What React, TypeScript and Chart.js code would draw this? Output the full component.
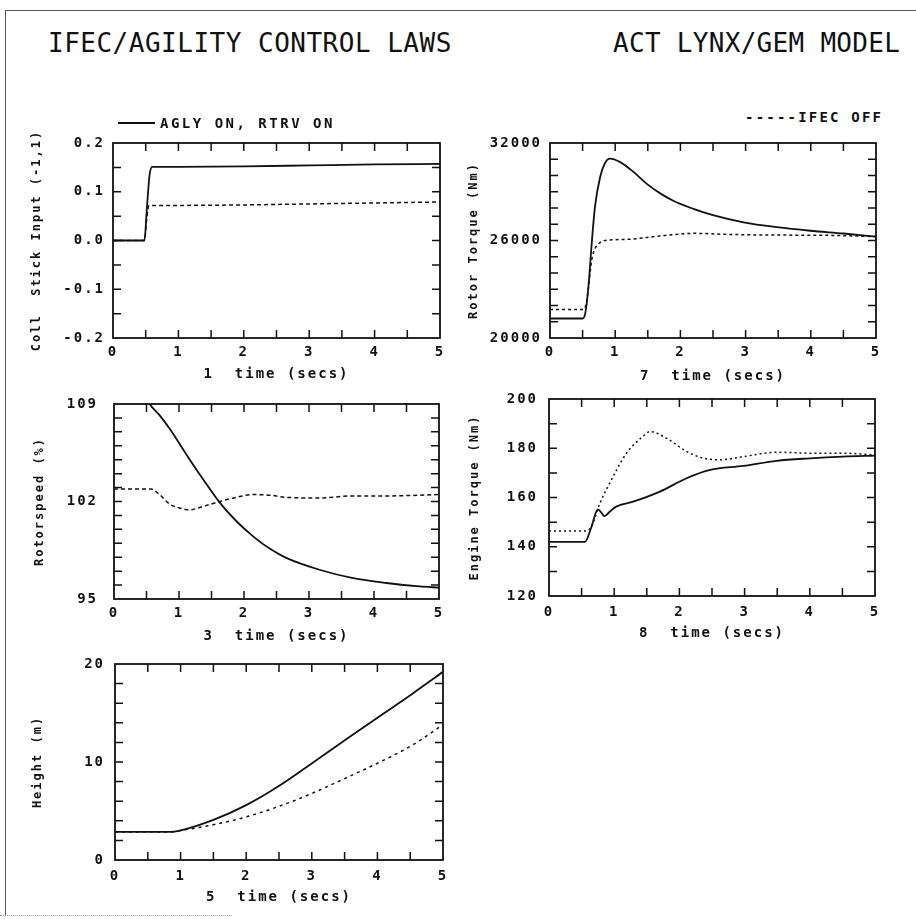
import React, { useEffect, useRef } from "react";
import { Chart, registerables } from "chart.js";

Chart.register(...registerables);

const MONO = '"DejaVu Sans Mono", "Liberation Mono", monospace';
const INK = "#111";

// ---------- shared x axis ----------
const X_TICK_VALUES = [0, 1, 2, 3, 4, 5];
const X_TICK_LABELS = ["0", "1", "2", "3", "4", "5"];

// ---------- 1: collective stick input ----------
const STICK_T_ON = [0, 0.48, 0.52, 0.56, 0.6, 1, 2, 3, 4, 5];
const STICK_ON = [0, 0, 0.07, 0.135, 0.151, 0.151, 0.152, 0.154, 0.156, 0.157];
const STICK_T_OFF = [0, 0.48, 0.52, 0.55, 1, 2, 3, 4, 5];
const STICK_OFF = [0, 0, 0.05, 0.072, 0.072, 0.073, 0.075, 0.077, 0.079];
const STICK_Y_TICKS = [-0.2, -0.1, 0, 0.1, 0.2];
const STICK_Y_LABELS = ["-0.2", "-0.1", "0.0", "0.1", "0.2"];

// ---------- 7: rotor torque ----------
const RTQ_T_ON = [0, 0.5, 0.54, 0.59, 0.64, 0.69, 0.77, 0.84, 0.92, 1.07, 1.28, 1.48, 1.69, 1.89, 2.2, 2.5, 2.97, 3.48, 3.99, 4.5, 5];
const RTQ_ON = [21200, 21200, 21500, 23170, 25830, 28080, 29920, 30740, 31040, 30840, 30220, 29500, 28900, 28450, 27950, 27560, 27120, 26820, 26600, 26430, 26240];
const RTQ_T_OFF = [0, 0.5, 0.56, 0.64, 0.69, 0.76, 0.82, 1.18, 1.69, 2.2, 2.71, 3.22, 3.74, 4.25, 5];
const RTQ_OFF = [21750, 21750, 22200, 24800, 25500, 25850, 25990, 26070, 26280, 26440, 26380, 26340, 26330, 26320, 26240];
const RTQ_Y_TICKS = [20000, 26000, 32000];
const RTQ_Y_LABELS = ["20000", "26000", "32000"];

// ---------- 3: rotorspeed ----------
const RSPD_T_ON = [0, 0.5, 0.55, 0.7, 0.86, 1.11, 1.37, 1.63, 1.88, 2.14, 2.4, 2.65, 3.16, 3.68, 4.19, 4.7, 5];
const RSPD_ON = [109.6, 109.5, 109.0, 108.2, 107.2, 105.4, 103.6, 101.9, 100.6, 99.5, 98.6, 97.95, 97.1, 96.5, 96.15, 95.9, 95.82];
const RSPD_T_OFF = [0, 0.57, 0.7, 0.86, 1.0, 1.16, 1.37, 1.63, 1.88, 2.14, 2.4, 2.65, 3.16, 3.68, 4.19, 5];
const RSPD_OFF = [102.9, 102.9, 102.5, 101.8, 101.55, 101.4, 101.65, 102.0, 102.3, 102.5, 102.45, 102.3, 102.25, 102.4, 102.4, 102.5];
const RSPD_Y_TICKS = [95, 102, 109];
const RSPD_Y_LABELS = ["95", "102", "109"];

// ---------- 8: engine torque ----------
const ETQ_T_ON = [0, 0.55, 0.65, 0.72, 0.75, 0.8, 0.85, 0.93, 1.03, 1.29, 1.7, 2.11, 2.47, 2.98, 3.49, 4.0, 4.51, 5];
const ETQ_ON = [142, 142, 148, 154, 155.2, 154, 152.4, 154.2, 156.3, 158.3, 162.4, 167.8, 171.2, 172.8, 174.9, 175.9, 176.6, 177];
const ETQ_T_OFF = [0, 0.55, 0.65, 0.78, 0.93, 1.19, 1.44, 1.55, 1.8, 2.11, 2.36, 2.62, 2.98, 3.49, 4.0, 4.51, 5];
const ETQ_OFF = [146.4, 146.4, 148.1, 157.6, 165.8, 178, 184.8, 186.8, 184.1, 178.7, 176, 175.3, 176.6, 178.4, 178, 178, 177.3];
const ETQ_Y_TICKS = [120, 140, 160, 180, 200];
const ETQ_Y_LABELS = ["120", "140", "160", "180", "200"];

// ---------- 5: height ----------
const HGT_T_ON = [0, 0.84, 0.99, 1.5, 2.0, 2.51, 3.02, 3.53, 4.04, 4.54, 5];
const HGT_ON = [2.86, 2.86, 3.0, 4.09, 5.6, 7.6, 9.95, 12.35, 14.7, 17.0, 19.2];
const HGT_T_OFF = [0, 0.84, 0.99, 1.5, 2.0, 2.51, 3.02, 3.53, 4.04, 4.54, 5];
const HGT_OFF = [2.86, 2.86, 3.0, 3.6, 4.4, 5.5, 6.85, 8.4, 10.0, 11.75, 13.8];
const HGT_Y_TICKS = [0, 10, 20];
const HGT_Y_LABELS = ["0", "10", "20"];

const zip = (t: number[], v: number[]) => t.map((x, i) => ({ x, y: v[i] }));

const inTicksPlugin = {
  id: "inTicks",
  beforeDraw(chart: any) {
    (chart.ctx as any).letterSpacing = "2px";
  },
  afterDatasetsDraw(chart: any, _args: any, opts: any) {
    const { ctx, chartArea: a, scales } = chart;
    const x = scales.x;
    const y = scales.y;
    ctx.save();
    (ctx as any).letterSpacing = "0px";
    ctx.strokeStyle = INK;
    ctx.lineWidth = 1.8;
    ctx.strokeRect(a.left, a.top, a.right - a.left, a.bottom - a.top);
    ctx.lineWidth = 1.5;
    ctx.beginPath();
    const nx = Math.round((x.max - x.min) / opts.xStep);
    for (let i = 1; i < nx; i++) {
      const px = x.getPixelForValue(x.min + i * opts.xStep);
      ctx.moveTo(px, a.top);
      ctx.lineTo(px, a.top + opts.len);
      ctx.moveTo(px, a.bottom);
      ctx.lineTo(px, a.bottom - opts.len);
    }
    const ny = Math.round((y.max - y.min) / opts.yStep);
    for (let i = 1; i < ny; i++) {
      const py = y.getPixelForValue(y.min + i * opts.yStep);
      ctx.moveTo(a.left, py);
      ctx.lineTo(a.left + opts.len, py);
      ctx.moveTo(a.right, py);
      ctx.lineTo(a.right - opts.len, py);
    }
    ctx.stroke();
    ctx.restore();
  },
};

type Panel = {
  key: string;
  box: any;
  on: { x: number; y: number }[];
  off: { x: number; y: number }[];
  dash: number[];
  yMin: number;
  yMax: number;
  yTicks: number[];
  yLabels: string[];
  yStep: number;
  yTitle: string;
  xTitle: string;
};

const PANELS: Panel[] = [
  {
    key: "stick",
    box: { left: 20, top: 105, w: 440, h: 285, padTop: 38, padRight: 20, yw: 93, xh: 52, yLabelPad: 8, xLabelPad: 5.6, yTitlePad: 9.8, xTitlePad: 7.6 },
    on: zip(STICK_T_ON, STICK_ON),
    off: zip(STICK_T_OFF, STICK_OFF),
    dash: [4, 3],
    yMin: -0.2, yMax: 0.2, yTicks: STICK_Y_TICKS, yLabels: STICK_Y_LABELS, yStep: 0.05,
    yTitle: "Coll  Stick Input (-1,1)", xTitle: "1  time (secs)",
  },
  {
    key: "rtq",
    box: { left: 460, top: 135, w: 440, h: 255, padTop: 8, padRight: 24, yw: 90, xh: 52, yLabelPad: 8, xLabelPad: 5.6, yTitlePad: 6.8, xTitlePad: 5.6 },
    on: zip(RTQ_T_ON, RTQ_ON),
    off: zip(RTQ_T_OFF, RTQ_OFF),
    dash: [3, 3],
    yMin: 20000, yMax: 32000, yTicks: RTQ_Y_TICKS, yLabels: RTQ_Y_LABELS, yStep: 1000,
    yTitle: "Rotor Torque (Nm)", xTitle: "7  time (secs)",
  },
  {
    key: "rspd",
    box: { left: 20, top: 392, w: 440, h: 256, padTop: 12, padRight: 21, yw: 94, xh: 49, yLabelPad: 16, xLabelPad: 5.6, yTitlePad: 12.8, xTitlePad: 3.6 },
    on: zip(RSPD_T_ON, RSPD_ON),
    off: zip(RSPD_T_OFF, RSPD_OFF),
    dash: [4, 3],
    yMin: 95, yMax: 109, yTicks: RSPD_Y_TICKS, yLabels: RSPD_Y_LABELS, yStep: 1,
    yTitle: "Rotorspeed (%)", xTitle: "3  time (secs)",
  },
  {
    key: "etq",
    box: { left: 460, top: 392, w: 440, h: 256, padTop: 7, padRight: 25, yw: 89, xh: 52, yLabelPad: 11, xLabelPad: 7.6, yTitlePad: 7.8, xTitlePad: 6.6 },
    on: zip(ETQ_T_ON, ETQ_ON),
    off: zip(ETQ_T_OFF, ETQ_OFF),
    dash: [2, 3],
    yMin: 120, yMax: 200, yTicks: ETQ_Y_TICKS, yLabels: ETQ_Y_LABELS, yStep: 10,
    yTitle: "Engine Torque (Nm)", xTitle: "8  time (secs)",
  },
  {
    key: "hgt",
    box: { left: 20, top: 650, w: 440, h: 265, padTop: 14, padRight: 17, yw: 95, xh: 55, yLabelPad: 10, xLabelPad: 7.6, yTitlePad: 10.8, xTitlePad: 9.6 },
    on: zip(HGT_T_ON, HGT_ON),
    off: zip(HGT_T_OFF, HGT_OFF),
    dash: [3, 4],
    yMin: 0, yMax: 20, yTicks: HGT_Y_TICKS, yLabels: HGT_Y_LABELS, yStep: 2,
    yTitle: "Height (m)", xTitle: "5  time (secs)",
  },
];

function buildConfig(p: Panel): any {
  const b = p.box;
  const tickFont = { family: MONO, size: 14, weight: "bold" as const };
  return {
    type: "line",
    data: {
      datasets: [
        {
          label: "AGLY ON, RTRV ON",
          data: p.on,
          borderColor: INK,
          borderWidth: 1.8,
          pointRadius: 0,
          cubicInterpolationMode: "monotone",
          fill: false,
        },
        {
          label: "IFEC OFF",
          data: p.off,
          borderColor: INK,
          borderWidth: 1.5,
          borderDash: p.dash,
          pointRadius: 0,
          cubicInterpolationMode: "monotone",
          fill: false,
        },
      ],
    },
    options: {
      animation: false,
      responsive: false,
      devicePixelRatio: 1,
      events: [],
      layout: { padding: { top: b.padTop, right: b.padRight, left: 0, bottom: 0 } },
      plugins: {
        legend: { display: false },
        tooltip: { enabled: false },
        inTicks: { xStep: 0.5, yStep: p.yStep, len: 8 },
      },
      scales: {
        x: {
          type: "linear",
          min: 0,
          max: 5,
          afterBuildTicks: (s: any) => {
            s.ticks = X_TICK_VALUES.map((v) => ({ value: v }));
          },
          afterFit: (s: any) => {
            s.height = b.xh;
            s.paddingLeft = 0;
            s.paddingRight = 0;
          },
          grid: { display: false, drawTicks: false },
          border: { display: false },
          ticks: {
            callback: (_v: any, i: number) => X_TICK_LABELS[i],
            font: tickFont,
            color: INK,
            padding: b.xLabelPad,
            maxRotation: 0,
            autoSkip: false,
          },
          title: {
            display: true,
            text: p.xTitle,
            font: tickFont,
            color: INK,
            padding: { top: 0, bottom: b.xTitlePad },
          },
        },
        y: {
          type: "linear",
          min: p.yMin,
          max: p.yMax,
          afterBuildTicks: (s: any) => {
            s.ticks = p.yTicks.map((v) => ({ value: v }));
          },
          afterFit: (s: any) => {
            s.width = b.yw;
            s.paddingTop = 0;
            s.paddingBottom = 0;
          },
          grid: { display: false, drawTicks: false },
          border: { display: false },
          ticks: {
            callback: (_v: any, i: number) => p.yLabels[i],
            font: tickFont,
            color: INK,
            padding: b.yLabelPad,
            autoSkip: false,
          },
          title: {
            display: true,
            text: p.yTitle,
            font: { family: MONO, size: 12, weight: "bold" as const },
            color: INK,
            padding: { top: b.yTitlePad, bottom: 0 },
          },
        },
      },
    },
    plugins: [inTicksPlugin],
  };
}

function PanelChart({ panel }: { panel: Panel }) {
  const ref = useRef<HTMLCanvasElement | null>(null);
  useEffect(() => {
    if (!ref.current) return;
    const chart = new Chart(ref.current, buildConfig(panel));
    return () => chart.destroy();
  }, [panel]);
  const b = panel.box;
  return (
    <canvas
      ref={ref}
      width={b.w}
      height={b.h}
      style={{ position: "absolute", left: b.left, top: b.top, width: b.w, height: b.h }}
    />
  );
}

const textBase: React.CSSProperties = {
  position: "absolute",
  whiteSpace: "pre",
  color: INK,
  fontFamily: MONO,
};

export default function App() {
  return (
    <div
      style={{
        position: "absolute",
        left: 0,
        top: 0,
        width: 916,
        height: 919,
        background: "#fff",
        overflow: "hidden",
      }}
    >
      {/* page frame from scan */}
      <div style={{ position: "absolute", left: 5, top: 10, width: 911, height: 0, borderTop: "1px solid #555" }} />
      <div style={{ position: "absolute", left: 5, top: 10, width: 0, height: 905, borderLeft: "1px solid #555" }} />
      <div style={{ position: "absolute", left: 0, top: 915, width: 232, height: 0, borderTop: "1px dotted #999" }} />

      <div style={{ ...textBase, left: 48, top: 28, fontSize: 26, lineHeight: "30px", letterSpacing: "0.5px" }}>
        IFEC/AGILITY CONTROL LAWS
      </div>
      <div style={{ ...textBase, left: 613, top: 28, fontSize: 26, lineHeight: "30px", letterSpacing: "0.3px" }}>
        ACT LYNX/GEM MODEL
      </div>

      {PANELS.map((p) => (
        <PanelChart key={p.key} panel={p} />
      ))}

      {/* legend entries */}
      <div style={{ position: "absolute", left: 118, top: 122, width: 37, height: 0, borderTop: "2px solid #111" }} />
      <div style={{ ...textBase, left: 160, top: 115, fontSize: 14, fontWeight: "bold", lineHeight: "16px", letterSpacing: "2.5px" }}>
        AGLY ON, RTRV ON
      </div>
      <div style={{ ...textBase, left: 745, top: 109, fontSize: 14, fontWeight: "bold", lineHeight: "16px", letterSpacing: "2.2px" }}>
        -----IFEC OFF
      </div>
    </div>
  );
}
